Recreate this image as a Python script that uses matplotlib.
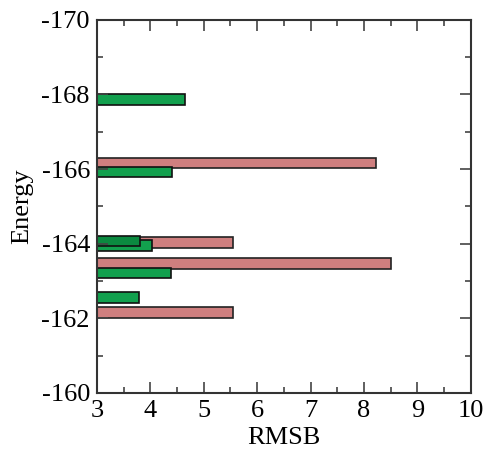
import matplotlib.pyplot as plt
from matplotlib.ticker import MultipleLocator

plt.rcParams['font.family'] = ['Liberation Serif', 'DejaVu Serif']
plt.rcParams['axes.unicode_minus'] = False

# pink (red) set
red_energy = [-166.16, -164.03, -163.47, -162.15]
red_rmsb = [8.22, 5.54, 8.50, 5.54]

# green set
green_energy = [-167.87, -165.92, -163.95, -163.21, -162.55]
green_rmsb = [4.64, 4.40, 4.04, 4.38, 3.78]

# darker green bar sitting over the -164 pair
dark_energy = [-164.07]
dark_rmsb = [3.80]

fig = plt.figure(figsize=(4.87, 4.51), dpi=100)
ax = fig.add_axes([0.199, 0.129, 0.768, 0.827])

h = 0.28
ax.barh(red_energy, red_rmsb, height=h, color='#cf7f7f', edgecolor='#222222', linewidth=1.2)
ax.barh(green_energy, green_rmsb, height=h, color='#12a04e', edgecolor='#111111', linewidth=1.2)
ax.barh(dark_energy, dark_rmsb, height=h, color='#0b8a40', edgecolor='#111111', linewidth=1.2)

ax.set_xlim(3, 10)
ax.set_ylim(-160, -170)
ax.xaxis.set_major_locator(MultipleLocator(1))
ax.xaxis.set_minor_locator(MultipleLocator(0.5))
ax.yaxis.set_major_locator(MultipleLocator(2))
ax.yaxis.set_minor_locator(MultipleLocator(1))
ax.tick_params(which='both', direction='in', top=True, right=True, labelsize=19, width=1.2, color='#444444', pad=5)
ax.tick_params(which='major', length=8)
ax.tick_params(which='minor', length=4)
for s in ax.spines.values():
    s.set_linewidth(1.5)
    s.set_color('#333333')

ax.set_xlabel('RMSB', fontsize=19, labelpad=4)
ax.set_ylabel('Energy', fontsize=19, labelpad=6)

fig.savefig('out.png', dpi=100)
